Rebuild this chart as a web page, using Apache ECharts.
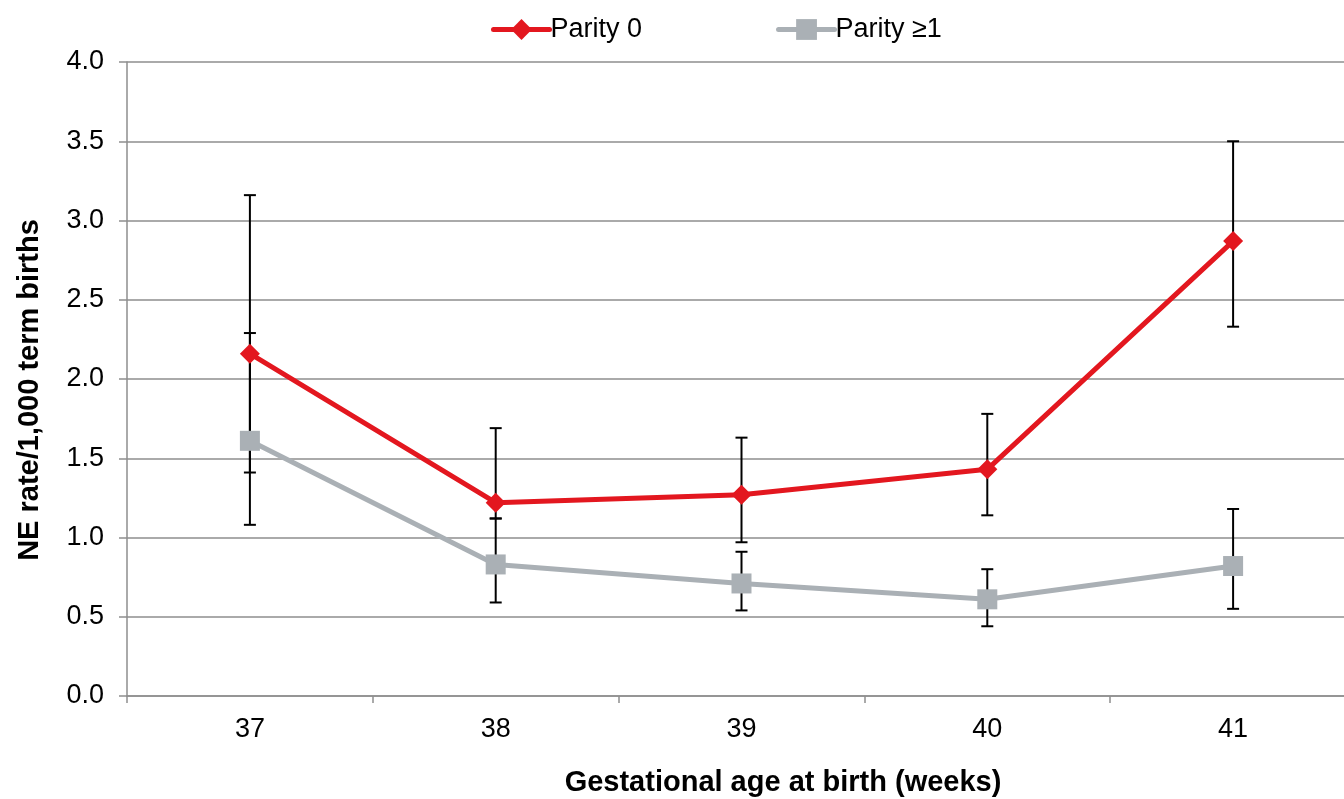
<!DOCTYPE html>
<html>
<head>
<meta charset="utf-8">
<title>NE rate by gestational age and parity</title>
<script src="https://cdn.jsdelivr.net/npm/echarts@6/dist/echarts.min.js"></script>
<style>
  html, body { margin: 0; padding: 0; background: #ffffff; overflow: hidden; }
  /* plot area runs slightly past the right edge of the page */
  #chart { width: 1360px; height: 799px; }
</style>
</head>
<body>
<div id="chart"></div>
<script>
// Gestational age categories (weeks)
const categories = ['37', '38', '39', '40', '41'];

// NE rate per 1,000 term births, with 95% CI bounds
const parity0 = [2.16, 1.22, 1.27, 1.43, 2.87];
const parity0Lower = [1.41, 1.12, 0.97, 1.14, 2.33];
const parity0Upper = [3.16, 1.69, 1.63, 1.78, 3.50];

const parity1 = [1.61, 0.83, 0.71, 0.61, 0.82];
const parity1Lower = [1.08, 0.59, 0.54, 0.44, 0.55];
const parity1Upper = [2.29, 1.12, 0.91, 0.80, 1.18];

const yTicks = ['0.0', '0.5', '1.0', '1.5', '2.0', '2.5', '3.0', '3.5', '4.0'];

const FONT = '"Liberation Sans", Arial, sans-serif';
const RED = '#e3171f';
const GREY = '#aab0b5';
const GRID_GREY = '#8e8e8e';

function errorRows(lower, upper) {
  return lower.map((lo, i) => [i, lo, upper[i]]);
}

// Draws a vertical whisker with caps for each category
function renderErrorBar(params, api) {
  const x = api.value(0);
  const lo = api.coord([x, api.value(1)]);
  const hi = api.coord([x, api.value(2)]);
  const half = 6;
  const style = { stroke: '#000000', lineWidth: 2 };
  return {
    type: 'group',
    children: [
      { type: 'line', shape: { x1: lo[0], y1: lo[1], x2: hi[0], y2: hi[1] }, style },
      { type: 'line', shape: { x1: lo[0] - half, y1: lo[1], x2: lo[0] + half, y2: lo[1] }, style },
      { type: 'line', shape: { x1: hi[0] - half, y1: hi[1], x2: hi[0] + half, y2: hi[1] }, style }
    ]
  };
}

const chart = echarts.init(document.getElementById('chart'), null, { renderer: 'canvas' });

chart.setOption({
  animation: false,
  backgroundColor: '#ffffff',
  textStyle: { fontFamily: FONT },
  legend: {
    top: 11,
    left: 486,
    itemWidth: 56,
    itemHeight: 26,
    itemGap: 134,
    lineStyle: { width: 5, cap: 'round' },
    textStyle: { fontSize: 27, color: '#000000', fontFamily: FONT, padding: [0, 0, 0, -4] },
    data: ['Parity 0', 'Parity ≥1']
  },
  grid: {
    left: 127,
    top: 62,
    right: 4,
    bottom: 103,
    containLabel: false
  },
  xAxis: {
    type: 'category',
    data: categories,
    boundaryGap: true,
    axisLine: { lineStyle: { color: GRID_GREY, width: 1.5 } },
    axisTick: { show: true, length: 7, lineStyle: { color: GRID_GREY, width: 1.5 } },
    axisLabel: { fontSize: 27, color: '#000000', margin: 20, fontFamily: FONT },
    splitLine: { show: false }
  },
  yAxis: {
    type: 'value',
    min: 0,
    max: 4,
    interval: 0.5,
    axisLine: { show: true, lineStyle: { color: GRID_GREY, width: 1.5 } },
    axisTick: { show: true, length: 8, lineStyle: { color: GRID_GREY, width: 1.5 } },
    axisLabel: {
      fontSize: 27,
      color: '#000000',
      margin: 23,
      fontFamily: FONT,
      formatter: (v) => yTicks[Math.round(v / 0.5)]
    },
    splitLine: { show: true, lineStyle: { color: GRID_GREY, width: 1.5 } }
  },
  graphic: [
    {
      type: 'text',
      x: 30,
      y: 390,
      rotation: Math.PI / 2,
      style: {
        text: 'NE rate/1,000 term births',
        font: 'bold 29px ' + FONT,
        fill: '#000000',
        textAlign: 'center',
        textVerticalAlign: 'middle'
      }
    },
    {
      type: 'text',
      x: 783,
      y: 783,
      style: {
        text: 'Gestational age at birth (weeks)',
        font: 'bold 29px ' + FONT,
        fill: '#000000',
        textAlign: 'center',
        textVerticalAlign: 'middle'
      }
    }
  ],
  series: [
    {
      name: 'Parity 0 CI',
      type: 'custom',
      renderItem: renderErrorBar,
      data: errorRows(parity0Lower, parity0Upper),
      encode: { x: 0, y: [1, 2] },
      z: 1,
      silent: true
    },
    {
      name: 'Parity ≥1 CI',
      type: 'custom',
      renderItem: renderErrorBar,
      data: errorRows(parity1Lower, parity1Upper),
      encode: { x: 0, y: [1, 2] },
      z: 1,
      silent: true
    },
    {
      name: 'Parity ≥1',
      type: 'line',
      data: parity1,
      symbol: 'rect',
      symbolSize: 20,
      itemStyle: { color: GREY },
      lineStyle: { color: GREY, width: 5 },
      z: 3
    },
    {
      name: 'Parity 0',
      type: 'line',
      data: parity0,
      symbol: 'diamond',
      symbolSize: 20,
      itemStyle: { color: RED },
      lineStyle: { color: RED, width: 5 },
      z: 4
    }
  ]
});
</script>
</body>
</html>
